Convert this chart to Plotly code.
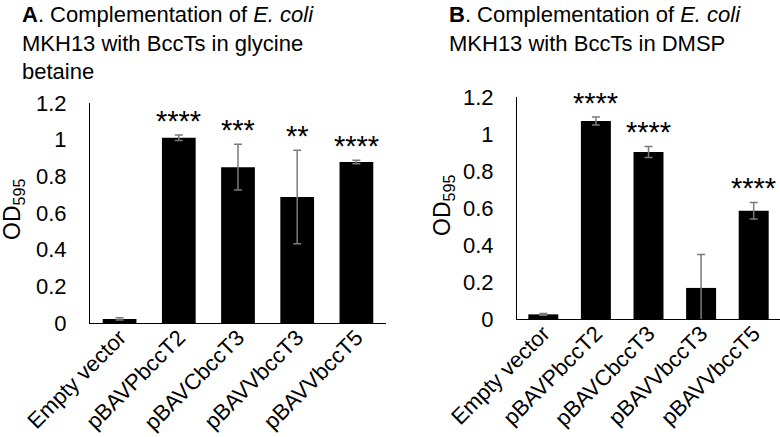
import plotly.graph_objects as go

# Data
strains = ['Empty vector', 'pBAVPbccT2', 'pBAVCbccT3', 'pBAVVbccT3', 'pBAVVbccT5']

gb_od = [0.022, 1.01, 0.85, 0.687, 0.878]
gb_err = [0.006, 0.015, 0.125, 0.255, 0.01]
gb_stars = ['', '****', '***', '**', '****']

dmsp_od = [0.025, 1.07, 0.903, 0.168, 0.585]
dmsp_err = [0.005, 0.022, 0.03, 0.18, 0.045]
dmsp_stars = ['', '****', '****', '', '****']

FONT = 'Liberation Sans, Arial, sans-serif'
W, H = 780, 437

fig = go.Figure()


def add_panel(values, errors, xa, ya):
    fig.add_trace(go.Bar(
        x=strains, y=values,
        marker_color='black', marker_line_width=0,
        error_y=dict(type='data', array=errors, color='#7a7a7a', thickness=1.5, width=4),
        xaxis=xa, yaxis=ya, showlegend=False
    ))


add_panel(gb_od, gb_err, 'x', 'y')
add_panel(dmsp_od, dmsp_err, 'x2', 'y2')

# significance stars above the error bars
for xr, yr, vals, errs, stars in [('x', 'y', gb_od, gb_err, gb_stars),
                                  ('x2', 'y2', dmsp_od, dmsp_err, dmsp_stars)]:
    for s, v, e, lab in zip(strains, vals, errs, stars):
        if lab:
            fig.add_annotation(x=s, y=v + e, xref=xr, yref=yr, text=lab, showarrow=False,
                               yanchor='bottom', yshift=-4, font=dict(size=29, color='black'))

axis_common = dict(showline=True, linecolor='black', linewidth=1, showgrid=False, zeroline=False,
                   automargin=False, tickfont=dict(size=22, color='black'))

fig.update_layout(
    template='none',
    width=W, height=H,
    margin=dict(l=0, r=0, t=0, b=0),
    paper_bgcolor='white', plot_bgcolor='white',
    font=dict(family=FONT, color='black'),
    bargap=0.43,
    xaxis=dict(domain=[90 / W, 386 / W], anchor='y', tickangle=-45, ticks='', ticklabelstandoff=-8,
               **axis_common),
    yaxis=dict(domain=[1 - 323 / H, 1 - 103 / H], anchor='x', range=[0, 1.2], dtick=0.2, tick0=0,
               ticks='outside', ticklen=18, tickcolor='rgba(0,0,0,0)', **axis_common),
    xaxis2=dict(domain=[517 / W, 1.0], anchor='y2', tickangle=-45, ticks='', ticklabelstandoff=-8,
                **axis_common),
    yaxis2=dict(domain=[1 - 319 / H, 1 - 97 / H], anchor='x2', range=[0, 1.2], dtick=0.2, tick0=0,
                ticks='outside', ticklen=18, tickcolor='rgba(0,0,0,0)', **axis_common),
)

# panel titles
fig.add_annotation(x=20 / W, y=1.0, xref='paper', yref='paper', xanchor='left', yanchor='top',
                   align='left', showarrow=False, font=dict(size=22),
                   text='<b>A</b>. Complementation of <i>E. coli</i><br>MKH13 with BccTs in glycine<br>betaine')
fig.add_annotation(x=447 / W, y=1.0, xref='paper', yref='paper', xanchor='left', yanchor='top',
                   align='left', showarrow=False, font=dict(size=22),
                   text='<b>B</b>. Complementation of <i>E. coli</i><br>MKH13 with BccTs in DMSP')

# y axis titles
fig.add_annotation(x=13 / W, y=1 - 210 / H, xref='paper', yref='paper', xanchor='center', textangle=-90,
                   showarrow=False, font=dict(size=23), text='OD<sub>595</sub>')
fig.add_annotation(x=443 / W, y=1 - 206 / H, xref='paper', yref='paper', xanchor='center', textangle=-90,
                   showarrow=False, font=dict(size=23), text='OD<sub>595</sub>')

# the page's default body margin would push the fixed-size figure off the window
fig.write_html('out.html', config={'displayModeBar': False},
               post_script="document.body.style.margin='0';")
